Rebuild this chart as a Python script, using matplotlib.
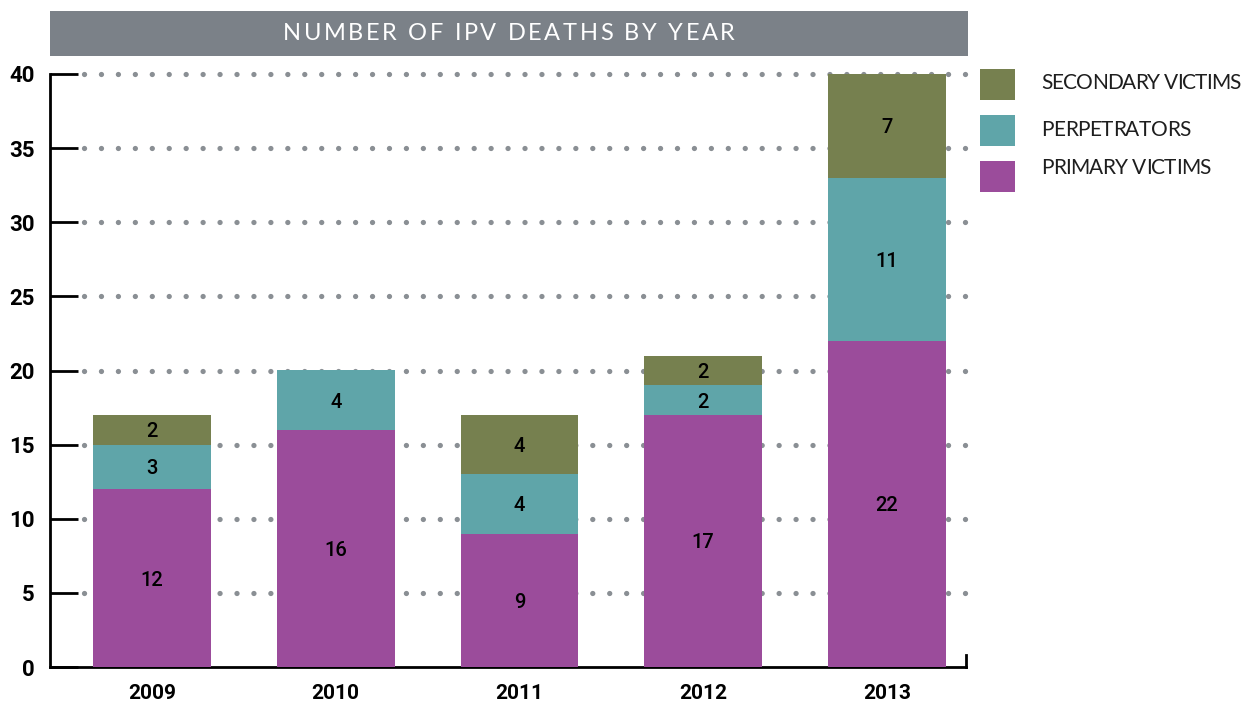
import matplotlib
matplotlib.use("Agg")
import matplotlib.pyplot as plt
from matplotlib.patches import Rectangle
from matplotlib.font_manager import FontProperties
import matplotlib.transforms as mtransforms

years = ["2009", "2010", "2011", "2012", "2013"]
primary = [12, 16, 9, 17, 22]
perpetrators = [3, 4, 4, 2, 11]
secondary = [2, 0, 4, 2, 7]
yticks = [0, 5, 10, 15, 20, 25, 30, 35, 40]
title = "NUMBER OF IPV DEATHS BY YEAR"
series_names = ["SECONDARY VICTIMS", "PERPETRATORS", "PRIMARY VICTIMS"]

c_prim = "#9b4c9b"
c_perp = "#5fa5a9"
c_sec = "#76804f"
grid_c = "#8a8f94"

W, H = 1247, 702
fig = plt.figure(figsize=(W / 100, H / 100), dpi=100)
ax = fig.add_axes([50 / W, (H - 667) / H, 916 / W, 593 / H])

x = list(range(len(years)))
bw = 0.642
ax.bar(x, primary, width=bw, color=c_prim, zorder=3)
bot2 = primary
ax.bar(x, perpetrators, width=bw, bottom=bot2, color=c_perp, zorder=3)
bot3 = [a + b for a, b in zip(primary, perpetrators)]
ax.bar(x, secondary, width=bw, bottom=bot3, color=c_sec, zorder=3)

lbl_font = dict(family="Roboto", fontweight="medium", fontsize=14.5, color="black",
                ha="center", va="center_baseline", zorder=5)
for i in x:
    ax.text(i, primary[i] / 2, str(primary[i]), **lbl_font)
    if perpetrators[i]:
        ax.text(i, bot2[i] + perpetrators[i] / 2, str(perpetrators[i]), **lbl_font)
    if secondary[i]:
        ax.text(i, bot3[i] + secondary[i] / 2, str(secondary[i]), **lbl_font)

ax.set_xlim(-0.555, 4.43)
ax.set_ylim(0, 40)

# dotted gridlines
trans = mtransforms.blended_transform_factory(ax.transAxes, ax.transData)
for yv in yticks[1:]:
    ax.plot([0.037, 1.0], [yv, yv], transform=trans, color=grid_c, lw=3.8,
            linestyle=(0, (0.01, 3.2)), dash_capstyle="round", zorder=1, clip_on=False)

for s in ["top", "right"]:
    ax.spines[s].set_visible(False)
ax.spines["left"].set_linewidth(2)
ax.spines["bottom"].set_linewidth(2)
# right end tick of bottom axis
ax.plot([1, 1], [0, 0.8], transform=trans, color="black", lw=2, clip_on=False, zorder=4)

ax.set_yticks(yticks)
ax.set_yticklabels([str(v) for v in yticks], fontsize=16, fontweight="bold", family="Roboto")
ax.tick_params(axis="y", direction="in", length=20, width=2, pad=11)
ax.set_xticks(x)
ax.set_xticklabels(years, fontsize=15, fontweight="bold", family="Roboto")
ax.tick_params(axis="x", length=0, pad=12)

# title bar
fig.patches.append(Rectangle((50 / W, (H - 56) / H), 918 / W, 45 / H, transform=fig.transFigure,
                             facecolor="#7b8188", edgecolor="none"))

renderer = fig.canvas.get_renderer()


def spaced_text(s, left_px, y_px, prop, target_w, color):
    def tw(t):
        return renderer.get_text_width_height_descent(t, prop, ismath=False)[0]
    full_w = tw(s)
    track = (target_w - full_w) / (len(s) - 1)
    for i, ch in enumerate(s):
        if ch == " ":
            continue
        px = left_px + (tw(s[:i]) if i > 0 else 0) + i * track
        fig.text(px / W, (H - y_px) / H, ch, color=color, fontproperties=prop,
                 ha="left", va="center")


tprop = FontProperties(family="Lato", weight="normal", size=17)
spaced_text(title, 509 - 452 / 2, 34, tprop, 452.0, "white")

# legend
leg_cols = [c_sec, c_perp, c_prim]
leg_top = [69, 115, 161]
leg_text_y = [83, 129.5, 168.5]
leg_w = [200, 150, 170]
lprop = FontProperties(family="Lato", weight="normal", size=15)
for name, col, t, ty, lw_ in zip(series_names, leg_cols, leg_top, leg_text_y, leg_w):
    fig.patches.append(Rectangle((980 / W, (H - t - 31) / H), 35 / W, 31 / H,
                                 transform=fig.transFigure, facecolor=col, edgecolor="none"))
    spaced_text(name, 1041, ty, lprop, lw_, "#1e1e1e")

fig.savefig("out.png", dpi=100)
